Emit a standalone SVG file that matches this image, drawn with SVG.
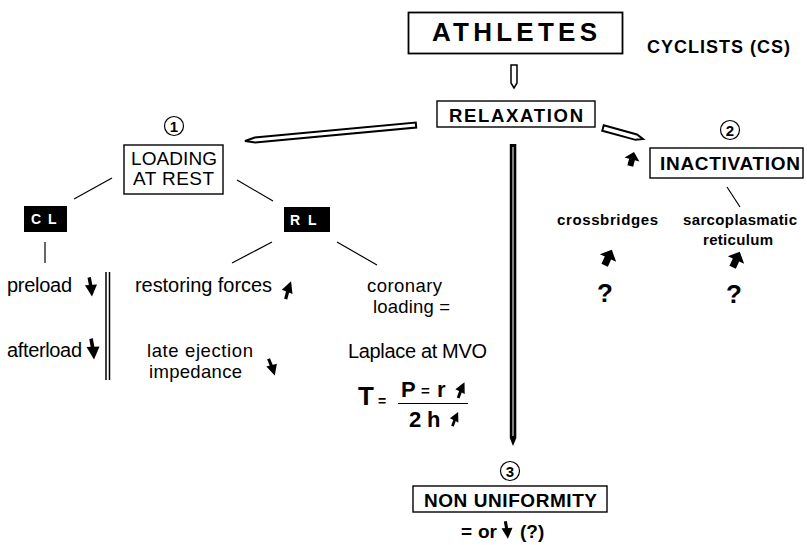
<svg xmlns="http://www.w3.org/2000/svg" xmlns:xlink="http://www.w3.org/1999/xlink" width="807" height="545" viewBox="0 0 807 545">
<defs>
<style>
text{font-family:"Liberation Sans",Arial,sans-serif;fill:#000}
.b{font-weight:bold}
.r{font-size:20px}
.r2{font-size:18.5px}
.box{fill:#fff;stroke:#000;stroke-width:1.4}
.blk{fill:#000}
.wt{fill:#fff;font-weight:bold;font-size:14px}
.ln{stroke:#000;stroke-width:1.2;fill:none}
.hollow{fill:#fff;stroke:#000;stroke-width:1.5;stroke-linejoin:miter}
.dark{fill:#fff;stroke:#000;stroke-width:2;stroke-linejoin:miter}
.num{font-size:15px;text-anchor:middle;font-weight:bold}
</style>
<g id="dn">
<path d="M-1.5,-8 L0.3,2" stroke="#000" stroke-width="2.8" fill="none"/>
<polygon points="-5,-1.5 5,-2 0.8,8" fill="#000"/>
</g>
<polygon id="fat" points="0,-9 9,0 3.5,0 3.5,8 -3.5,8 -3.5,0 -9,0" fill="#000"/>
</defs>
<rect width="807" height="545" fill="#fff"/>

<g id="connectors">
<polygon class="hollow" points="511,65 517,65 517,83 514,88 511,83"/>
<polygon class="dark" points="415.77,122.51 416.23,127.49 255.19,142.56 245,141 254.72,137.58"/>
<polygon class="dark" points="603.74,125.3 602.26,130.7 635.51,139.85 643,139 636.99,134.45"/>
<polygon points="509.8,144 516.3,144 516.3,438 513,446 509.8,438" fill="#000"/>
<line x1="513" y1="147" x2="513" y2="436" stroke="#fff" stroke-width="1"/>
<line class="ln" x1="112" y1="178" x2="74" y2="199"/>
<line class="ln" x1="237" y1="180" x2="273" y2="201"/>
<line class="ln" x1="45" y1="242" x2="45" y2="263"/>
<line class="ln" x1="272" y1="242" x2="232" y2="263"/>
<line class="ln" x1="337" y1="242" x2="377" y2="265"/>
<line class="ln" x1="727" y1="187" x2="740" y2="207"/>
<line class="ln" x1="106" y1="272" x2="106" y2="380" style="stroke-width:1.5"/>
<line class="ln" x1="109.5" y1="272" x2="109.5" y2="380" style="stroke-width:1.5"/>
</g>

<g id="athletes">
<rect class="box" x="408.5" y="12.5" width="214" height="41" style="stroke-width:1.8"/>
<text class="b" x="432" y="41" font-size="26" textLength="165" lengthAdjust="spacing">ATHLETES</text>
</g>
<g id="cyclists">
<text class="b" x="647" y="53" font-size="18" textLength="143" lengthAdjust="spacing">CYCLISTS (CS)</text>
</g>
<g id="relaxation">
<rect class="box" x="437" y="101" width="158" height="26"/>
<text class="b" x="449" y="122" font-size="18.5" textLength="134" lengthAdjust="spacing">RELAXATION</text>
</g>

<g id="loading">
<circle cx="174" cy="126" r="9.5" fill="none" stroke="#000" stroke-width="1.2"/>
<text class="num" x="174" y="131.5">1</text>
<rect class="box" x="124" y="145" width="99" height="49"/>
<text x="131" y="165" font-size="19" textLength="86" lengthAdjust="spacing">LOADING</text>
<text x="133" y="185" font-size="19" textLength="81" lengthAdjust="spacing">AT REST</text>
</g>

<g id="inactivation">
<circle cx="730" cy="130" r="9.5" fill="none" stroke="#000" stroke-width="1.2"/>
<text class="num" x="730" y="135.5">2</text>
<rect class="box" x="650" y="148" width="153" height="30"/>
<text class="b" x="660" y="170" font-size="19" textLength="140" lengthAdjust="spacing">INACTIVATION</text>
<use href="#fat" transform="translate(632,159.5) rotate(15) scale(0.85)"/>
</g>

<g id="crossbridges">
<text class="b" x="557" y="225" font-size="15" textLength="101" lengthAdjust="spacing">crossbridges</text>
<use href="#fat" transform="translate(608,258) rotate(25)"/>
<text class="b" x="605" y="302" font-size="26" text-anchor="middle">?</text>
</g>

<g id="sarcoplasmatic">
<text class="b" x="683" y="225" font-size="15" textLength="114" lengthAdjust="spacing">sarcoplasmatic</text>
<text class="b" x="703" y="245" font-size="15" textLength="70" lengthAdjust="spacing">reticulum</text>
<use href="#fat" transform="translate(736,260) rotate(25)"/>
<text class="b" x="734" y="303" font-size="26" text-anchor="middle">?</text>
</g>

<g id="cl">
<rect class="blk" x="24" y="206" width="43" height="26"/>
<text class="wt" x="31" y="224">C</text>
<text class="wt" x="48" y="224">L</text>
</g>
<g id="rl">
<rect class="blk" x="284" y="207" width="46" height="25"/>
<text class="wt" x="290" y="224.5">R</text>
<text class="wt" x="308" y="224.5">L</text>
</g>

<g id="preload">
<text class="r" x="7" y="292" textLength="65" lengthAdjust="spacing">preload</text>
<use href="#dn" transform="translate(91,287) scale(1.2)"/>
</g>
<g id="afterload">
<text class="r" x="7" y="357" textLength="75" lengthAdjust="spacing">afterload</text>
<use href="#dn" transform="translate(93,349) scale(1.3)"/>
</g>
<g id="restoring">
<text class="r" x="135" y="292" textLength="137" lengthAdjust="spacing">restoring forces</text>
<use href="#dn" transform="translate(288,290) rotate(-155) scale(1.15)"/>
</g>
<g id="late">
<text class="r2" x="147" y="357" textLength="106" lengthAdjust="spacing">late ejection</text>
<text class="r2" x="149" y="378" textLength="93" lengthAdjust="spacing">impedance</text>
<use href="#dn" transform="translate(272,367) rotate(-12) scale(1.1)"/>
</g>
<g id="coronary">
<text class="r2" x="367" y="292" textLength="75" lengthAdjust="spacing">coronary</text>
<text class="r2" x="373" y="313" textLength="77" lengthAdjust="spacing">loading =</text>
<text class="r" x="348" y="358" textLength="139" lengthAdjust="spacing">Laplace at MVO</text>
<text class="b" x="358" y="405" font-size="26">T</text>
<text class="b" x="378" y="406" font-size="14">=</text>
<text class="b" x="401" y="397" font-size="22">P</text>
<text class="b" x="421" y="396" font-size="15">=</text>
<text class="b" x="437" y="397" font-size="22">r</text>
<use href="#dn" transform="translate(461,390) rotate(-150) scale(1.05)"/>
<line x1="398" y1="403.5" x2="468" y2="403.5" stroke="#000" stroke-width="1.2"/>
<text class="b" x="409" y="427" font-size="22">2</text>
<text class="b" x="427" y="427" font-size="22">h</text>
<use href="#dn" transform="translate(455,419) rotate(-150) scale(0.95)"/>
</g>

<g id="nonuniformity">
<circle cx="510" cy="471" r="9.5" fill="none" stroke="#000" stroke-width="1.2"/>
<text class="num" x="510" y="476.5">3</text>
<rect class="box" x="413" y="486" width="194" height="26"/>
<text class="b" x="424" y="507" font-size="19" textLength="173" lengthAdjust="spacing">NON UNIFORMITY</text>
<text class="b" x="461" y="538" font-size="19">=</text>
<text class="b" x="478" y="538" font-size="19">or</text>
<use href="#dn" transform="translate(507,530) scale(1.1)"/>
<text class="b" x="520" y="538" font-size="19">(?)</text>
</g>
</svg>
